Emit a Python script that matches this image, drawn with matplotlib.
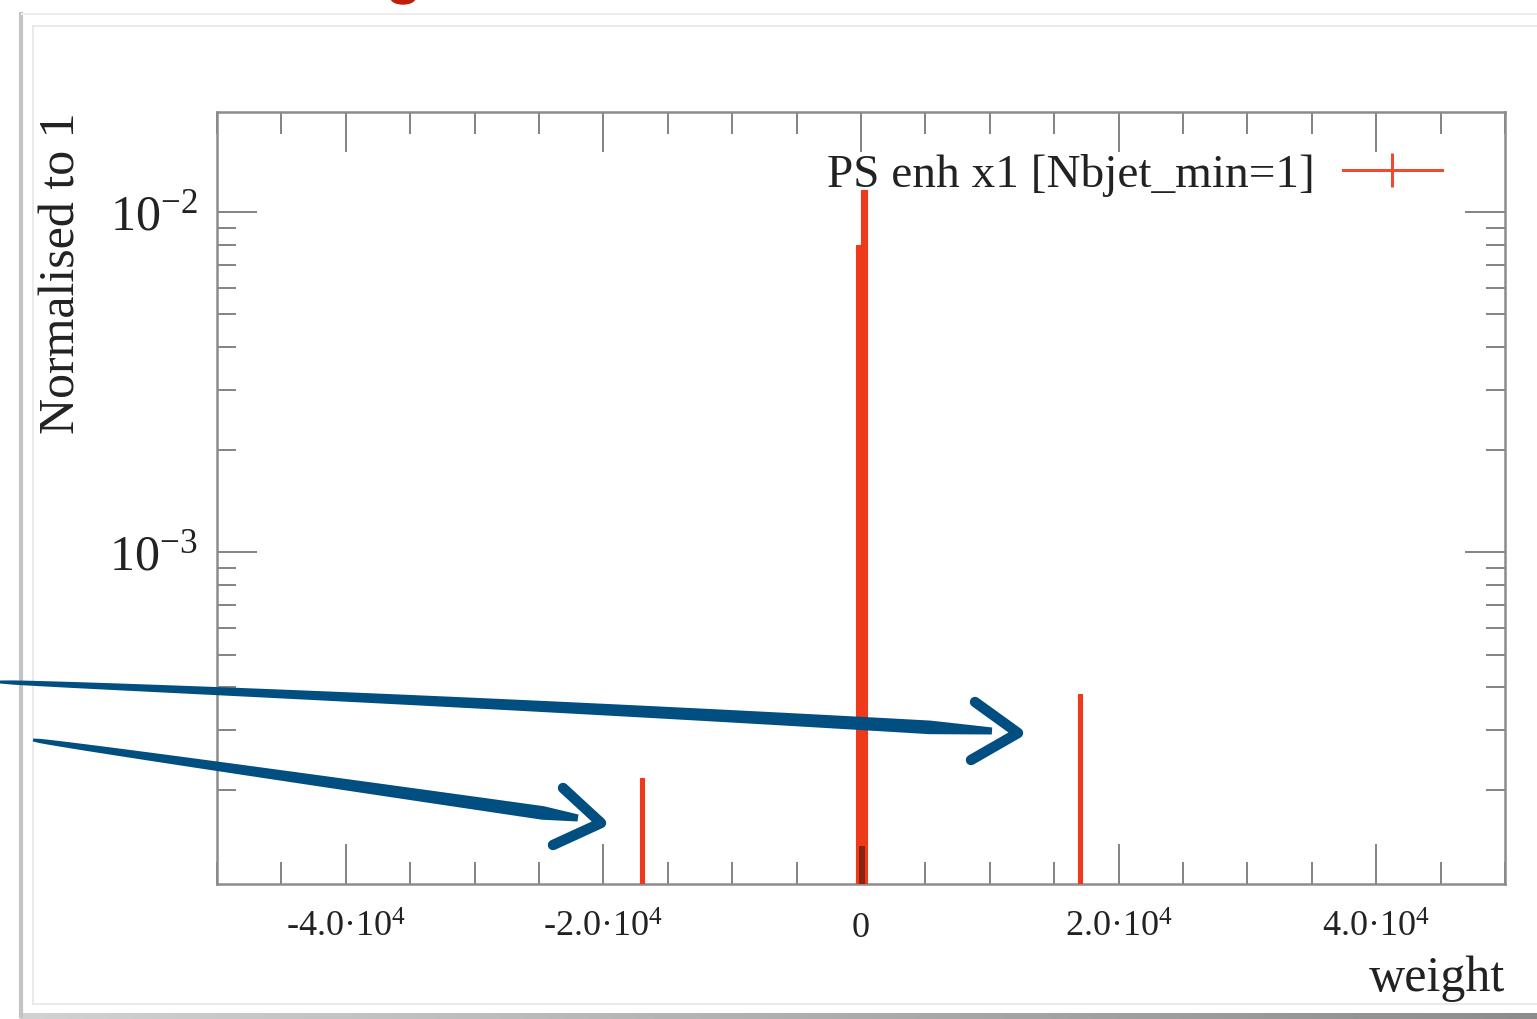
import numpy as np
import matplotlib
matplotlib.use("Agg")
import matplotlib.pyplot as plt
from matplotlib.lines import Line2D
from matplotlib.patches import Polygon, Ellipse
from matplotlib.ticker import MultipleLocator, FuncFormatter, LogLocator, NullFormatter

# histogram bins (centre, width) and normalised contents
bin_centers = [-17000, -150, 250, 17000]
bin_widths = [250, 520, 450, 250]
bin_values = [2.16e-4, 8.0e-3, 1.16e-2, 3.82e-4]

# darker underlying contribution in the central bin
dark_centers = [50]
dark_widths = [480]
dark_values = [1.37e-4]

legend_label = "PS enh x1 [Nbjet_min=1]"
x_label = "weight"
y_label = "Normalised to 1"

RED = "#ee3a1a"
BLUE = "#004f80"

plt.rcParams["font.family"] = ["Liberation Serif", "DejaVu Serif"]
plt.rcParams["mathtext.fontset"] = "custom"
plt.rcParams["mathtext.rm"] = "Liberation Serif"
plt.rcParams["mathtext.it"] = "Liberation Serif:italic"
plt.rcParams["axes.unicode_minus"] = False

W, H = 1537, 1019
fig = plt.figure(figsize=(W / 100, H / 100), dpi=100)

# background overlay in pixel coordinates (slide frame)
bg = fig.add_axes([0, 0, 1, 1], zorder=0)
bg.set_xlim(0, W)
bg.set_ylim(H, 0)
bg.axis("off")
bg.plot([21, 21], [14, 1016], color="#c4c4c4", lw=3)
bg.plot([22, W], [14, 14], color="#ededed", lw=1.5)
bg.plot([33, W], [26, 26], color="#e6e6e6", lw=1.2)
bg.plot([33, 33], [26, 1004], color="#e6e6e6", lw=1.2)
bg.plot([33, W], [1004, 1004], color="#e6e6e6", lw=1.2)
grad = np.linspace(0.82, 0.55, 256)[None, :]
bg.imshow(grad, extent=[20, W, 1019, 1013], cmap="gray", vmin=0, vmax=1, aspect="auto")
bg.add_patch(Ellipse((403, -2), 24, 12, color="#c01e0a"))
bg.set_xlim(0, W)
bg.set_ylim(H, 0)

# main axes
ax = fig.add_axes([217 / W, 1 - 884 / H, (1505 - 217) / W, (884 - 112) / H], zorder=5)
ax.set_facecolor("none")

ax.bar(bin_centers, bin_values, width=bin_widths, color=RED, edgecolor=RED, linewidth=0.8, zorder=3)
ax.bar(dark_centers, dark_values, width=dark_widths, color="#8a2412", linewidth=0, zorder=4)

ax.set_yscale("log")
ax.set_xlim(-50000, 50000)
ax.set_ylim(1.057e-4, 1.97e-2)

ax.xaxis.set_major_locator(MultipleLocator(20000))
ax.xaxis.set_minor_locator(MultipleLocator(5000))


def xfmt(v, pos):
    if abs(v) < 1:
        return "0"
    return f"{v / 1e4:.1f}\u00b710$^{{4}}$"


ax.xaxis.set_major_formatter(FuncFormatter(xfmt))
ax.yaxis.set_major_locator(LogLocator(base=10))
ax.yaxis.set_minor_locator(LogLocator(base=10, subs=np.arange(2, 10)))
ax.yaxis.set_minor_formatter(NullFormatter())

for s in ax.spines.values():
    s.set_color("#8c8c8c")
    s.set_linewidth(1.8)

ax.tick_params(which="both", direction="in", top=True, right=True, color="#7a7a7a", width=1.3)
ax.tick_params(which="major", length=29)
ax.tick_params(axis="x", which="minor", length=16)
ax.tick_params(axis="y", which="minor", length=14)
ax.tick_params(axis="x", which="major", labelsize=26, pad=20, labelcolor="#222222")
ax.tick_params(axis="y", which="major", labelsize=36, pad=14, labelcolor="#222222")

ax.set_xlabel(x_label, loc="right", fontsize=36, labelpad=8, color="#222222")
ax.set_ylabel(y_label, loc="top", fontsize=36, labelpad=17, color="#222222")

handle = Line2D([], [], color="#ef4a34", lw=2.2, marker="|", markersize=24, mew=2.2)
ax.legend([handle], [legend_label], loc="center right", bbox_to_anchor=(0.951, 0.918),
          frameon=False, markerfirst=False, fontsize=34, handlelength=2.1,
          handletextpad=0.6, borderpad=0, borderaxespad=0, labelcolor="#222222")

# foreground overlay: hand drawn arrows
fg = fig.add_axes([0, 0, 1, 1], zorder=10)
fg.set_xlim(0, W)
fg.set_ylim(H, 0)
fg.axis("off")
fg.set_facecolor("none")


def tapered(p0, pc, p1, w0, w1):
    t = np.linspace(0, 1, 80)
    x = (1 - t) ** 2 * p0[0] + 2 * (1 - t) * t * pc[0] + t ** 2 * p1[0]
    y = (1 - t) ** 2 * p0[1] + 2 * (1 - t) * t * pc[1] + t ** 2 * p1[1]
    dx, dy = np.gradient(x), np.gradient(y)
    n = np.hypot(dx, dy)
    nx, ny = -dy / n, dx / n
    w = w0 + (w1 - w0) * np.sqrt(t)
    w[-6:] *= np.linspace(1, 0.5, 6)
    pts = np.concatenate([np.c_[x + nx * w / 2, y + ny * w / 2],
                          np.c_[x - nx * w / 2, y - ny * w / 2][::-1]])
    fg.add_patch(Polygon(pts, closed=True, color=BLUE, lw=0))


tapered((0, 682), (500, 702), (992, 731), 3, 14)
tapered((33, 740), (300, 778), (578, 818), 3, 14)
fg.plot([975, 1018, 971], [702, 733, 760], color=BLUE, lw=7.5,
        solid_capstyle="round", solid_joinstyle="round")
fg.plot([563, 601, 553], [788, 823, 845], color=BLUE, lw=7.5,
        solid_capstyle="round", solid_joinstyle="round")
fg.set_xlim(0, W)
fg.set_ylim(H, 0)

fig.savefig("out.png", dpi=100, facecolor="white")
